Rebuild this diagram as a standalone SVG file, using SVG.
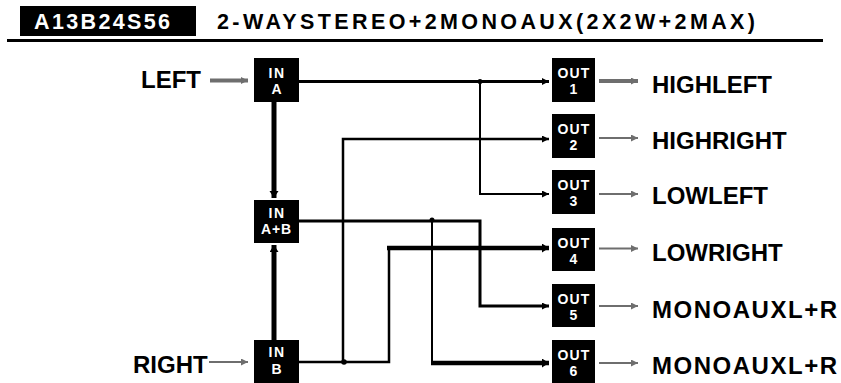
<svg xmlns="http://www.w3.org/2000/svg" width="841" height="383" viewBox="0 0 841 383">
<style>
.lbl{font-family:"Liberation Sans",Arial,sans-serif;font-weight:bold;fill:#000}
.nt{font-family:"Liberation Sans",Arial,sans-serif;font-weight:bold;fill:#fff;text-anchor:middle;font-size:14px}
.box{fill:#000}
.w{fill:none;stroke:#000;stroke-linejoin:miter;stroke-linecap:butt}
.g{fill:none;stroke:#6e6e6e}
</style>
<defs>
<marker id="ab" markerUnits="userSpaceOnUse" markerWidth="8" markerHeight="8" refX="7" refY="3.5" orient="auto"><path d="M0,0 L7,3.5 L0,7 z" fill="#000"/></marker>
<marker id="abt" markerUnits="userSpaceOnUse" markerWidth="10" markerHeight="10" refX="7" refY="4.5" orient="auto"><path d="M0,0 L7,4.5 L0,9 z" fill="#000"/></marker>
<marker id="ag" markerUnits="userSpaceOnUse" markerWidth="8" markerHeight="8" refX="7" refY="3.5" orient="auto"><path d="M0,0 L7,3.5 L0,7 z" fill="#6e6e6e"/></marker>
</defs>

<g id="header">
<rect x="20" y="6" width="176" height="30" fill="#000"/>
<text x="34" y="28.5" font-size="21.5" class="lbl" style="fill:#fff" textLength="136" lengthAdjust="spacing">A13B24S56</text>
<text x="217" y="28.5" font-size="21.5" class="lbl" textLength="538" lengthAdjust="spacing">2-WAYSTEREO+2MONOAUX(2X2W+2MAX)</text>
<rect x="7" y="39" width="816" height="3" fill="#000"/>
</g>

<g id="connectors">
<line x1="210" y1="80.5" x2="248" y2="80.5" class="g" stroke-width="4" marker-end="url(#ag)"/>
<line x1="209" y1="362" x2="248" y2="362" class="g" stroke-width="2" marker-end="url(#ag)"/>
<line x1="274" y1="102" x2="274" y2="198" class="w" stroke-width="5" marker-end="url(#abt)"/>
<line x1="274" y1="340" x2="274" y2="245" class="w" stroke-width="5" marker-end="url(#abt)"/>
<line x1="299" y1="81.5" x2="549" y2="81.5" class="w" stroke-width="3" marker-end="url(#ab)"/>
<path d="M480,81.5 V194 H549" class="w" stroke-width="2" marker-end="url(#ab)"/>
<path d="M343,362 V139 H549" class="w" stroke-width="2.5" marker-end="url(#ab)"/>
<path d="M299,362 H389 V248" class="w" stroke-width="2.5"/>
<line x1="387" y1="248" x2="549" y2="248" class="w" stroke-width="4.5" marker-end="url(#abt)"/>
<path d="M299,221 H480 V306 H549" class="w" stroke-width="3" marker-end="url(#ab)"/>
<path d="M432,221 V363" class="w" stroke-width="2"/>
<line x1="431" y1="363" x2="549" y2="363" class="w" stroke-width="4.5" marker-end="url(#abt)"/>
<circle cx="480" cy="81.5" r="2.5" fill="#000"/>
<circle cx="432" cy="220" r="2.5" fill="#000"/>
<circle cx="344" cy="362" r="2.8" fill="#000"/>
<line x1="599" y1="81" x2="638" y2="81" class="g" stroke-width="4" marker-end="url(#ag)"/>
<line x1="599" y1="138" x2="638" y2="138" class="g" stroke-width="2" marker-end="url(#ag)"/>
<line x1="599" y1="194" x2="638" y2="194" class="g" stroke-width="2" marker-end="url(#ag)"/>
<line x1="599" y1="248.5" x2="638" y2="248.5" class="g" stroke-width="2" marker-end="url(#ag)"/>
<line x1="599" y1="306" x2="638" y2="306" class="g" stroke-width="2" marker-end="url(#ag)"/>
<line x1="599" y1="363" x2="638" y2="363" class="g" stroke-width="2" marker-end="url(#ag)"/>
</g>

<g id="label-left"><text x="141" y="88" font-size="24" class="lbl">LEFT</text></g>
<g id="label-right"><text x="133" y="373" font-size="24" class="lbl">RIGHT</text></g>

<g id="in-a"><rect x="254" y="58" width="45" height="44" class="box"/><text class="nt"><tspan x="277" y="77.5" letter-spacing="1.5">IN</tspan><tspan x="276.5" y="94">A</tspan></text></g>
<g id="in-ab"><rect x="254" y="200" width="45" height="43" class="box"/><text class="nt"><tspan x="277" y="217.5" letter-spacing="1.5">IN</tspan><tspan x="276.5" y="234" letter-spacing="0.8">A+B</tspan></text></g>
<g id="in-b"><rect x="254" y="340" width="45" height="44" class="box"/><text class="nt"><tspan x="277" y="356.5" letter-spacing="1.5">IN</tspan><tspan x="276.5" y="373.5">B</tspan></text></g>

<g id="out-1"><rect x="552" y="58" width="43" height="44" class="box"/><text class="nt"><tspan x="574" y="77.5" letter-spacing="1.2">OUT</tspan><tspan x="573.5" y="94">1</tspan></text></g>
<g id="out-2"><rect x="552" y="114" width="43" height="44" class="box"/><text class="nt"><tspan x="574" y="133.5" letter-spacing="1.2">OUT</tspan><tspan x="573.5" y="150">2</tspan></text></g>
<g id="out-3"><rect x="552" y="170" width="43" height="44" class="box"/><text class="nt"><tspan x="574" y="189.5" letter-spacing="1.2">OUT</tspan><tspan x="573.5" y="206">3</tspan></text></g>
<g id="out-4"><rect x="552" y="228" width="43" height="43" class="box"/><text class="nt"><tspan x="574" y="247.5" letter-spacing="1.2">OUT</tspan><tspan x="573.5" y="264">4</tspan></text></g>
<g id="out-5"><rect x="552" y="284" width="43" height="43" class="box"/><text class="nt"><tspan x="574" y="303.5" letter-spacing="1.2">OUT</tspan><tspan x="573.5" y="320">5</tspan></text></g>
<g id="out-6"><rect x="552" y="340" width="43" height="44" class="box"/><text class="nt"><tspan x="574" y="359.5" letter-spacing="1.2">OUT</tspan><tspan x="573.5" y="376">6</tspan></text></g>

<g id="out-labels">
<text x="652" y="92.5" font-size="24" class="lbl">HIGHLEFT</text>
<text x="652" y="148.5" font-size="24" class="lbl">HIGHRIGHT</text>
<text x="652" y="204" font-size="24" class="lbl">LOWLEFT</text>
<text x="652" y="261" font-size="24" class="lbl">LOWRIGHT</text>
<text x="652" y="318" font-size="24" class="lbl" textLength="185" lengthAdjust="spacing">MONOAUXL+R</text>
<text x="652" y="374" font-size="24" class="lbl" textLength="185" lengthAdjust="spacing">MONOAUXL+R</text>
</g>
</svg>
